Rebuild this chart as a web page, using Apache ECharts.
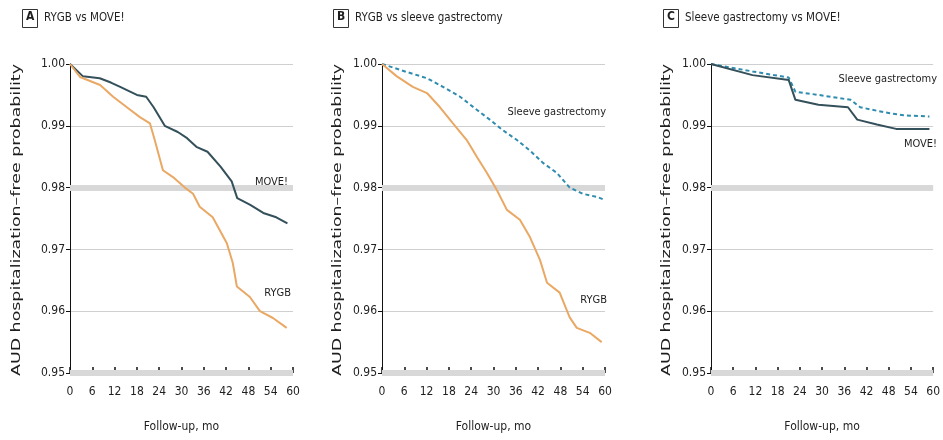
<!DOCTYPE html>
<html><head><meta charset="utf-8">
<script src="https://cdn.jsdelivr.net/npm/echarts@6/dist/echarts.min.js"></script>
<style>html,body{margin:0;padding:0;background:#fff}#c{width:943px;height:440px}</style>
</head><body><div id="c"></div>
<script>
// ---- data ----
const xTicks = [0,6,12,18,24,30,36,42,48,54,60];
const yTicks = [0.95,0.96,0.97,0.98,0.99,1.00];

const panelTitles = ["RYGB vs MOVE!", "RYGB vs sleeve gastrectomy", "Sleeve gastrectomy vs MOVE!"];
const panelLetters = ["A","B","C"];
const yTitle = "AUD hospitalization–free probability";
const xTitle = "Follow-up, mo";

// Panel A
const A_move_t = [0,3.5,8,11,13.5,18,20.5,22.5,25.5,29,31.5,34,37,40.5,43.5,45,48.5,52,55.5,58.5];
const A_move_v = [1,0.998,0.9977,0.997,0.9963,0.995,0.9947,0.993,0.990,0.989,0.988,0.9866,0.9858,0.9834,0.981,0.9783,0.9772,0.9759,0.9752,0.9742];
const A_rygb_t = [0,2.7,8.1,11.6,15.3,18.8,21.5,22.8,25,27.7,30.9,33.1,34.9,38.4,42.2,43.8,44.9,48.4,51.1,54.6,58.3];
const A_rygb_v = [1,0.9979,0.9966,0.9947,0.993,0.9914,0.9904,0.9877,0.9828,0.9817,0.980,0.979,0.9769,0.9752,0.971,0.9678,0.964,0.9623,0.960,0.9589,0.9573];

// Panel B
const B_sleeve_t = [0,6.7,12.1,16.4,21,25.5,29,32.5,36.3,39.8,43.3,47,50.5,54,57.8,60];
const B_sleeve_v = [1,0.9987,0.9977,0.9963,0.9947,0.9926,0.991,0.9893,0.9877,0.986,0.984,0.9824,0.980,0.979,0.9785,0.978];
const B_rygb_t = [0,4,8.3,12.1,15.6,19.1,22.8,25.5,28.2,30.9,33.6,37.1,39.8,42.5,44.4,47.8,50.5,52.4,55.9,59.1];
const B_rygb_v = [1,0.998,0.9963,0.9953,0.993,0.9904,0.9877,0.985,0.9824,0.9796,0.9764,0.9748,0.972,0.9683,0.9646,0.963,0.959,0.9573,0.9565,0.955];

// Panel C
const C_sleeve_t = [0,11.2,21,22.8,29,37.7,40.3,46.7,52,59];
const C_sleeve_v = [1,0.9988,0.9978,0.9955,0.995,0.9942,0.993,0.9922,0.9917,0.9915];
const C_move_t = [0,11.2,21,22.8,29,37,39.5,44.8,50,59];
const C_move_v = [1,0.9982,0.9974,0.9942,0.9934,0.993,0.991,0.9902,0.9895,0.9895];

const COL_MOVE = "#34505b", COL_RYGB = "#eaa865", COL_SLEEVE = "#2f8cae";
const FONT = "'DejaVu Sans Condensed','DejaVu Sans',sans-serif";
const FW = 'condensed';
const TXT = '#1e1e1e';

function pairs(t, v){ return t.map((x,i)=>[x, v[i]]); }

const grids = [
  {left:70, width:223, top:64, height:309},
  {left:382, width:223, top:64, height:309},
  {left:711, width:226, top:64, height:309}
];

const xAxes = grids.map((g,i)=>({
  gridIndex:i, type:'value', min:0, max:60, interval:6,
  name:xTitle, nameLocation:'middle', nameGap:48,
  nameTextStyle:{fontFamily:FONT, fontWeight:FW, fontSize:12, color:TXT},
  axisLine:{show:false},
  axisTick:{show:true, length:6, inside:true, lineStyle:{color:'#111', width:1.5}},
  axisLabel:{fontFamily:FONT, fontWeight:FW, fontSize:12, color:TXT, margin:13},
  splitLine:{show:false}
}));
const yAxes = grids.map((g,i)=>({
  gridIndex:i, type:'value', min:0.95, max:1.0, interval:0.01,
  axisLine:{show:true, lineStyle:{color:'#111', width:1}},
  axisTick:{show:true, length:4, lineStyle:{color:'#111'}},
  axisLabel:{fontFamily:FONT, fontWeight:FW, fontSize:12, color:TXT, margin:5, formatter:v=>v.toFixed(2)},
  splitLine:{show:true, lineStyle:{color:'#cfcfcf', width:1}}
}));

function lineSeries(idx, data, color, dashed, name, withThick){
  const s = {
    type:'line', name:name, xAxisIndex:idx, yAxisIndex:idx, data:data,
    showSymbol:false, smooth:false, z:5,
    lineStyle:{color:color, width:2, type: dashed ? [4,3] : 'solid'}
  };
  if (withThick){
    s.markLine = {silent:true, symbol:'none', label:{show:false}, z:1,
      lineStyle:{color:'#d8d8d8', width:6, type:'solid'},
      data:[{yAxis:0.98},{yAxis:0.95}]};
  }
  return s;
}

const series = [
  lineSeries(0, pairs(A_move_t, A_move_v), COL_MOVE, false, 'MOVE!', true),
  lineSeries(0, pairs(A_rygb_t, A_rygb_v), COL_RYGB, false, 'RYGB', false),
  lineSeries(1, pairs(B_sleeve_t, B_sleeve_v), COL_SLEEVE, true, 'Sleeve gastrectomy', true),
  lineSeries(1, pairs(B_rygb_t, B_rygb_v), COL_RYGB, false, 'RYGB', false),
  lineSeries(2, pairs(C_sleeve_t, C_sleeve_v), COL_SLEEVE, true, 'Sleeve gastrectomy', true),
  lineSeries(2, pairs(C_move_t, C_move_v), COL_MOVE, false, 'MOVE!', false)
];

// stretched rotated y-axis titles (the reference text is elongated)
const mctx = document.createElement('canvas').getContext('2d');
mctx.font = "normal condensed 12px " + FONT;
const yTitleW = mctx.measureText(yTitle).width || 190;
const yTitleScale = 312 / yTitleW;

const titleX = [22, 333, 663];
const yTitleCx = [17, 338, 667];
const graphics = [];
titleX.forEach((x,i)=>{
  graphics.push({type:'rect', left:x, top:9, shape:{width:15, height:18}, style:{fill:'#fff', stroke:'#333', lineWidth:1}});
  graphics.push({type:'text', left:x+4, top:11, style:{text:panelLetters[i], fontFamily:FONT, fontWeight:'bold', fontSize:12, fill:TXT}});
  graphics.push({type:'text', left:x+22, top:12, style:{text:panelTitles[i], fontFamily:FONT, fontWeight:FW, fontSize:11.5, fill:TXT}});
  graphics.push({type:'text', x:yTitleCx[i], y:220, rotation:Math.PI/2, scaleX:yTitleScale, scaleY:1,
    style:{text:yTitle, fontFamily:FONT, fontWeight:FW, fontSize:12, fill:TXT, align:'center', verticalAlign:'middle'}});
});
function lbl(text, x, y){ graphics.push({type:'text', right:x, top:y, style:{text:text, fontFamily:FONT, fontWeight:FW, fontSize:11, fill:TXT}}); }
// right offsets from the canvas edge
lbl('MOVE!', 943-288, 177);
lbl('RYGB', 943-291, 288);
lbl('Sleeve gastrectomy', 943-606, 107);
lbl('RYGB', 943-607, 295);
lbl('Sleeve gastrectomy', 943-937, 74);
lbl('MOVE!', 943-937, 139);

const chart = echarts.init(document.getElementById('c'), null, {renderer:'canvas'});
chart.setOption({
  animation:false,
  backgroundColor:'#fff',
  grid:grids, xAxis:xAxes, yAxis:yAxes, series:series, graphic:graphics
});
</script></body></html>
